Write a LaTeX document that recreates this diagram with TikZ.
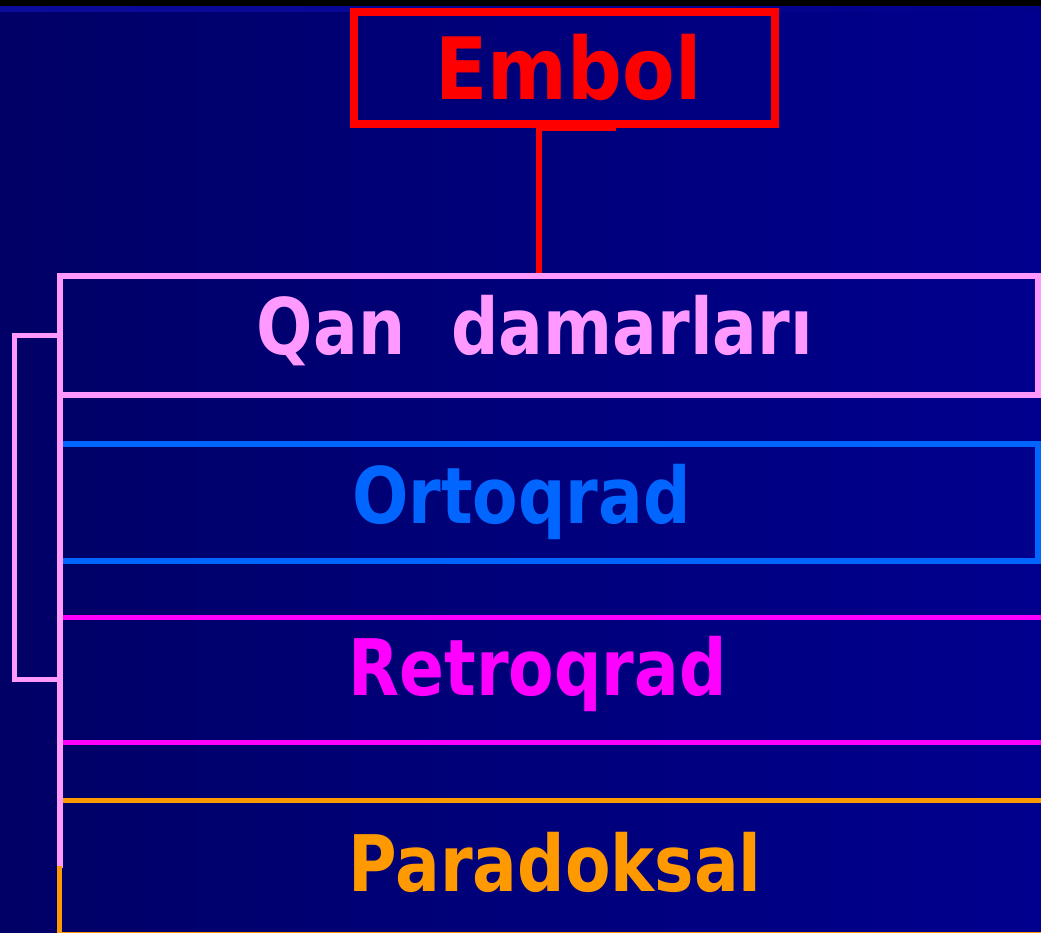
\documentclass[tikz,border=0pt]{standalone}
\usepackage{fontspec}
\newfontfamily\labelfont{DejaVu Sans}[FakeStretch=0.85]
\newfontfamily\titlefont{DejaVu Sans}[FakeStretch=0.89]
\definecolor{bgleft}{HTML}{000066}
\definecolor{bgright}{HTML}{00008E}
\definecolor{bandleft}{HTML}{0C0C9C}
\definecolor{bandright}{HTML}{00008A}
\definecolor{cred}{HTML}{FF0000}
\definecolor{cpink}{HTML}{FF99FF}
\definecolor{cblue}{HTML}{0066FF}
\definecolor{cmagenta}{HTML}{FF00FF}
\definecolor{corange}{HTML}{FF9900}
\begin{document}
\begin{tikzpicture}[x=1pt,y=-1pt,
  frame/.style={draw, rectangle, inner sep=0pt},
  label/.style={inner sep=0pt, anchor=base, font=\labelfont\bfseries\fontsize{78}{94}\selectfont},
  title/.style={inner sep=0pt, anchor=base, font=\titlefont\bfseries\fontsize{86}{102}\selectfont}]
\useasboundingbox (0,0) rectangle (1041,932);
\begin{scope}
\clip (0,0) rectangle (1041,932);
% background
\shade[left color=bgleft, right color=bgright] (0,0) rectangle (1041,932);
\fill[black] (0,0) rectangle (1041,6);
\shade[left color=bandleft, right color=bandright] (0,6) rectangle (1041,11);

% bracket on the left
\node[frame, draw=cpink, line width=5.5pt, minimum width=45pt, minimum height=344pt] (bracket) at (37,507.5) {};

% stacked boxes
\node[frame, draw=cpink, line width=6pt, minimum width=978.5pt, minimum height=118.5pt] (qan) at (548.75,335.25) {};
\node[frame, draw=cblue, line width=5.5pt, minimum width=978.5pt, minimum height=117pt] (orto) at (548.75,502.5) {};
\node[frame, draw=cmagenta, line width=5pt, minimum width=1000.5pt, minimum height=125pt] (retro) at (559.75,679.5) {};
\node[frame, draw=corange, line width=5pt, minimum width=1000.5pt, minimum height=133.5pt] (para) at (559.75,867.25) {};

% left spine
\coordinate (spinetop) at (59.5,273);
\coordinate (spinemid) at (59.5,868);
\coordinate (spineend) at (59.5,940);
\draw[cpink, line width=6pt] (spinetop) -- (spinemid);
\draw[corange, line width=5pt] ([yshift=2pt]spinemid) -- (spineend);

% top box and its connector
\node[frame, draw=cred, line width=8pt, minimum width=421.5pt, minimum height=112pt] (embol) at (564.25,67.5) {};
\coordinate (tap) at (539,0);
\draw[cred, line width=6pt] ([xshift=52pt]embol.south) -| (tap |- qan.north);

% labels
\node[title, text=cred] (tembol) at (568.5,99) {Embol};
\node[label, text=cpink] (tqan) at (535,354) {Qan\ \ damarları};
\node[label, text=cblue] (torto) at (521.5,523) {Ortoqrad};
\node[label, text=cmagenta] (tretro) at (537.5,695) {Retroqrad};
\node[label, text=corange] (tpara) at (555,891) {Paradoksal};
\end{scope}
\end{tikzpicture}
\end{document}
